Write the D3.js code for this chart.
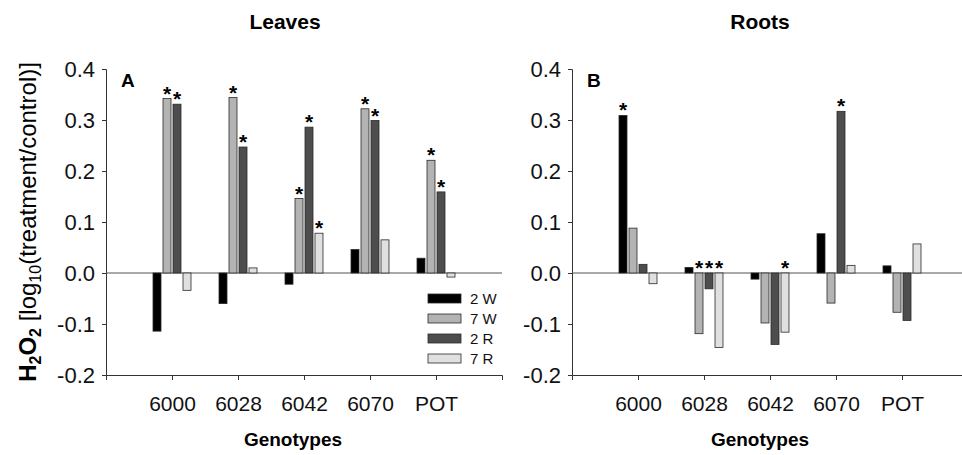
<html>
<head>
<meta charset="utf-8">
<title>H2O2 leaves and roots</title>
<script src="https://cdn.jsdelivr.net/npm/d3@7"></script>
<style>
body { margin: 0; background: #fff; }
text { font-family: "Liberation Sans", Arial, sans-serif; }
</style>
</head>
<body>
<svg width="962" height="455"></svg>
<script>
// data
var genotypes = ["6000", "6028", "6042", "6070", "POT"];
var series = ["2 W", "7 W", "2 R", "7 R"];
var colors = ["#000000", "#b3b3b3", "#4d4d4d", "#e0e0e0"];

var leaves2W = [-0.114, -0.060, -0.022, 0.046, 0.029];
var leaves7W = [0.342, 0.344, 0.146, 0.322, 0.221];
var leaves2R = [0.331, 0.247, 0.286, 0.299, 0.159];
var leaves7R = [-0.034, 0.010, 0.078, 0.065, -0.008];
var leavesStar = [[0,1,1,0],[0,1,1,0],[0,1,1,1],[0,1,1,0],[0,1,1,0]];

var roots2W = [0.309, 0.011, -0.012, 0.077, 0.014];
var roots7W = [0.088, -0.119, -0.098, -0.059, -0.077];
var roots2R = [0.017, -0.031, -0.140, 0.317, -0.093];
var roots7R = [-0.021, -0.146, -0.116, 0.015, 0.057];
var rootsStar = [[1,0,0,0],[0,1,1,1],[0,0,0,1],[0,0,1,0],[0,0,0,0]];

var yTicks = [-0.2, -0.1, 0.0, 0.1, 0.2, 0.3, 0.4];

var svg = d3.select("svg");
var W = 396, H = 306, plotTop = 69;

var x = d3.scaleLinear().domain([0, 6]).range([0, W]);
var y = d3.scaleLinear().domain([-0.2, 0.4]).range([H, 0]);
var xs = d3.scaleBand().domain(series).range([-20, 20]).paddingInner(0.2).paddingOuter(0.1);

function fmt(d) { return d.toFixed(1); }

function panel(ox, letter, title, vals, stars, titleX, labX) {
  var g = svg.append("g").attr("transform", "translate(" + ox + "," + plotTop + ")");

  // y axis
  var ya = g.append("g").call(d3.axisLeft(y).tickValues(yTicks).tickFormat(fmt).tickSizeOuter(0).tickSize(4).tickPadding(7));
  ya.selectAll("text").style("font-size", "22px").attr("fill", "#111");
  ya.select(".domain").attr("stroke", "#333");
  ya.selectAll("line").attr("stroke", "#333");

  // x axis
  var xa = g.append("g").attr("transform", "translate(0," + H + ")")
    .call(d3.axisBottom(x).tickValues([1,2,3,4,5]).tickFormat(function(d){ return genotypes[d-1]; }).tickSizeOuter(0).tickSize(5).tickPadding(16));
  xa.selectAll("text").style("font-size", "21px").attr("fill", "#111");
  xa.select(".domain").attr("stroke", "#333");
  xa.selectAll("line").attr("stroke", "#333");

  // zero line
  g.append("line").attr("x1", x(0)).attr("x2", x(6)).attr("y1", y(0)).attr("y2", y(0))
    .attr("stroke", "#555").attr("stroke-width", 1.2);

  var rows = [];
  genotypes.forEach(function(gn, i) {
    series.forEach(function(s, j) {
      rows.push({i: i, s: s, j: j, v: vals[j][i], star: stars[i][j]});
    });
  });

  g.selectAll("rect.bar").data(rows).enter().append("rect")
    .attr("class", "bar")
    .attr("x", function(d){ return x(d.i + 1) + xs(d.s); })
    .attr("width", xs.bandwidth())
    .attr("y", function(d){ return y(Math.max(0, d.v)); })
    .attr("height", function(d){ return Math.abs(y(d.v) - y(0)); })
    .attr("fill", function(d){ return colors[d.j]; })
    .attr("stroke", "#2a2a2a").attr("stroke-width", 0.8);

  g.selectAll("text.star").data(rows.filter(function(d){ return d.star; })).enter().append("text")
    .attr("class", "star")
    .attr("x", function(d){ return x(d.i + 1) + xs(d.s) + xs.bandwidth() / 2; })
    .attr("y", function(d){ return y(Math.max(0, d.v)) + 2; })
    .attr("text-anchor", "middle").style("font-size", "21px").style("font-weight", "bold")
    .text("*");

  g.append("text").attr("x", 15).attr("y", 18).style("font-size", "19px").style("font-weight", "bold").text(letter);

  svg.append("text").attr("x", titleX).attr("y", 29).attr("text-anchor", "middle")
    .style("font-size", "21px").style("font-weight", "bold").text(title);
  svg.append("text").attr("x", labX).attr("y", 446).attr("text-anchor", "middle")
    .style("font-size", "19px").style("font-weight", "bold").text("Genotypes");
  return g;
}

var gl = panel(106, "A", "Leaves", [leaves2W, leaves7W, leaves2R, leaves7R], leavesStar, 285, 293);
panel(572, "B", "Roots", [roots2W, roots7W, roots2R, roots7R], rootsStar, 760, 760);

// legend in panel A
var leg = gl.append("g").attr("transform", "translate(322,225)");
series.forEach(function(s, j) {
  leg.append("rect").attr("x", 0).attr("y", j * 20).attr("width", 33).attr("height", 9)
    .attr("fill", colors[j]).attr("stroke", "#2a2a2a").attr("stroke-width", 0.8);
  leg.append("text").attr("x", 42).attr("y", j * 20 + 10).style("font-size", "15px").attr("fill", "#111").text(s);
});

// y axis title
var yt = svg.append("text").attr("transform", "translate(36,222) rotate(-90)")
  .attr("text-anchor", "middle").style("font-size", "24px");
yt.append("tspan").style("font-weight", "bold").text("H");
yt.append("tspan").style("font-weight", "bold").style("font-size", "16px").attr("dy", 5).text("2");
yt.append("tspan").style("font-weight", "bold").attr("dy", -5).text("O");
yt.append("tspan").style("font-weight", "bold").style("font-size", "16px").attr("dy", 5).text("2");
yt.append("tspan").attr("dy", -5).text(" [log");
yt.append("tspan").style("font-size", "16px").attr("dy", 5).text("10");
yt.append("tspan").attr("dy", -5).text("(treatment/control)]");
</script>
</body>
</html>
